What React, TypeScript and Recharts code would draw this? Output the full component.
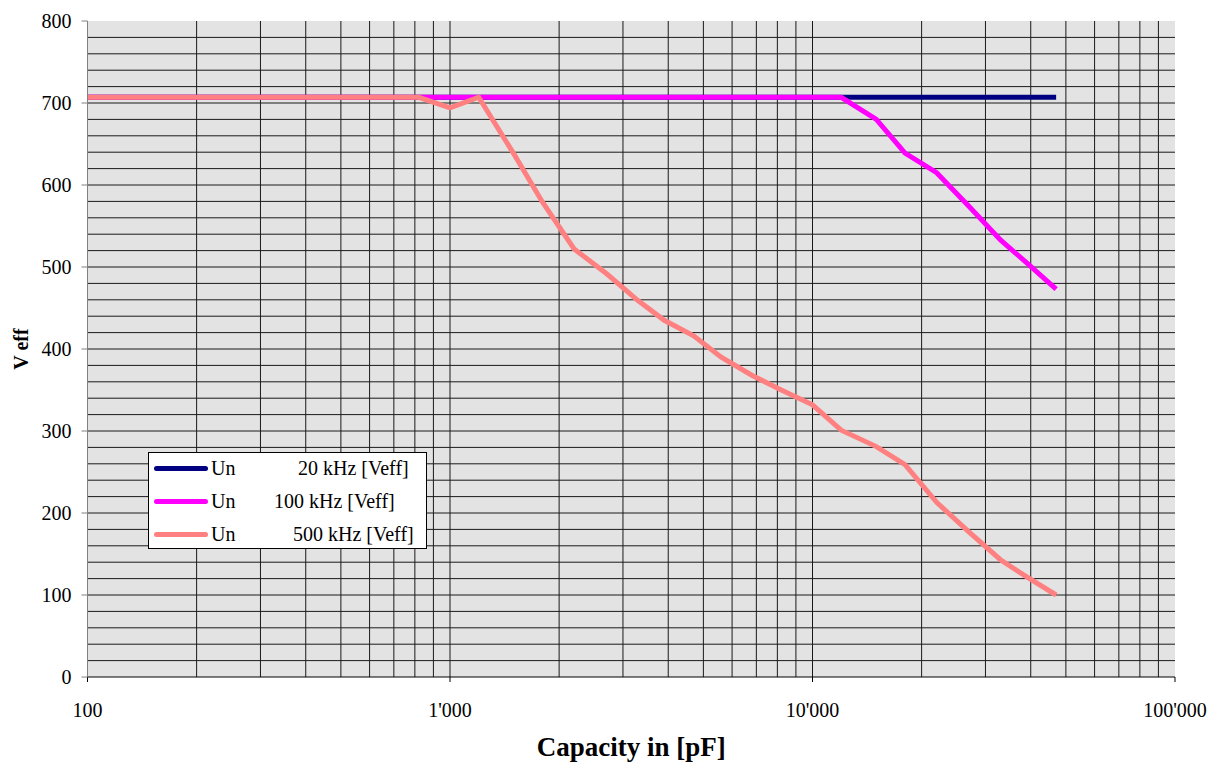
import { LineChart, Line, XAxis, YAxis, CartesianGrid, ReferenceLine, Legend } from "recharts";

// capacitance values (pF), E12 steps
const capacity = [
  100, 120, 150, 180, 220, 270, 330, 390, 470, 560, 680, 820,
  1000, 1200, 1500, 1800, 2200, 2700, 3300, 3900, 4700, 5600, 6800, 8200,
  10000, 12000, 15000, 18000, 22000, 27000, 33000, 39000, 47000,
];

const un20k = [
  707, 707, 707, 707, 707, 707, 707, 707, 707, 707, 707, 707,
  707, 707, 707, 707, 707, 707, 707, 707, 707, 707, 707, 707,
  707, 707, 707, 707, 707, 707, 707, 707, 707,
];
const un100k = [
  707, 707, 707, 707, 707, 707, 707, 707, 707, 707, 707, 707,
  707, 707, 707, 707, 707, 707, 707, 707, 707, 707, 707, 707,
  707, 707, 680, 639, 615, 574, 533, 505, 473,
];
const un500k = [
  707, 707, 707, 707, 707, 707, 707, 707, 707, 707, 707, 707,
  694, 707, 638, 579, 522, 492, 459, 435, 416, 390, 368, 350,
  332, 301, 281, 259, 213, 177, 143, 122, 100,
];

const xTicks = [100, 1000, 10000, 100000];
const yTicks = [0, 100, 200, 300, 400, 500, 600, 700, 800];
const xGrid = [
  200, 300, 400, 500, 600, 700, 800, 900, 1000,
  2000, 3000, 4000, 5000, 6000, 7000, 8000, 9000, 10000,
  20000, 30000, 40000, 50000, 60000, 70000, 80000, 90000,
];
const yGrid = [
  20, 40, 60, 80, 100, 120, 140, 160, 180, 200, 220, 240, 260, 280, 300,
  320, 340, 360, 380, 400, 420, 440, 460, 480, 500, 520, 540, 560, 580,
  600, 620, 640, 660, 680, 700, 720, 740, 760, 780,
];

const series = [
  { key: "u20", name: "20 kHz [Veff]", values: un20k, color: "#000080" },
  { key: "u100", name: "100 kHz [Veff]", values: un100k, color: "#ff00ff" },
  { key: "u500", name: "500 kHz [Veff]", values: un500k, color: "#ff8080" },
];

const data = capacity.map((c, i) => {
  const row: Record<string, number> = { c };
  series.forEach((s) => (row[s.key] = s.values[i]));
  return row;
});

const font = "'Liberation Serif', 'Times New Roman', serif";
const legendTextLeft = [149, 125, 144];

const fmtCap = (v: number) => String(v).replace(/\B(?=(\d{3})+(?!\d))/g, "'");

function LegendBox() {
  return (
    <div
      style={{
        width: 277,
        height: 95,
        border: "1px solid #000",
        background: "#fff",
        position: "relative",
        fontFamily: font,
        fontSize: 20,
        color: "#000",
      }}
    >
      {series.map((s, i) => (
        <div key={s.key} style={{ position: "absolute", top: 3 + i * 33, left: 0, height: 24, width: "100%" }}>
          <div
            style={{
              position: "absolute",
              left: 5,
              top: 10,
              width: 54,
              height: 5,
              borderRadius: 2.5,
              background: s.color,
            }}
          />
          <span style={{ position: "absolute", left: 62, top: 0, lineHeight: "24px" }}>Un</span>
          <span style={{ position: "absolute", left: legendTextLeft[i], top: 0, lineHeight: "24px", whiteSpace: "nowrap" }}>
            {s.name}
          </span>
        </div>
      ))}
    </div>
  );
}

export default function App() {
  return (
    <div style={{ position: "absolute", left: 0, top: 0, background: "#fff" }}>
      <LineChart
        width={1219}
        height={765}
        data={data}
        margin={{ top: 21, right: 44, bottom: 0, left: 0 }}
        style={{ fontFamily: font }}
      >
        <CartesianGrid fill="#e3e3e3" stroke="none" horizontal={false} vertical={false} />
        {xGrid.map((v) => (
          <ReferenceLine key={"x" + v} x={v} stroke="#1a1a1a" strokeWidth={1} ifOverflow="visible" />
        ))}
        {yGrid.map((v) => (
          <ReferenceLine key={"y" + v} y={v} stroke="#1a1a1a" strokeWidth={1} />
        ))}
        <XAxis
          dataKey="c"
          type="number"
          scale="log"
          domain={[100, 100000]}
          ticks={xTicks}
          allowDataOverflow
          tickFormatter={fmtCap}
          height={88}
          tickSize={5}
          tickMargin={21}
          stroke="#000"
          tick={{ fill: "#000", fontSize: 20, fontFamily: font }}
          label={{
            content: ({ viewBox }: any) => (
              <text
                x={viewBox.x + viewBox.width / 2}
                y={viewBox.y + 79}
                textAnchor="middle"
                fontFamily={font}
                fontWeight="bold"
                fontSize={27}
                fill="#000"
              >
                Capacity in [pF]
              </text>
            ),
          }}
        />
        <YAxis
          type="number"
          domain={[0, 800]}
          ticks={yTicks}
          width={87.5}
          tickSize={6}
          tickMargin={10}
          stroke="#808080"
          tick={{ fill: "#000", fontSize: 20, fontFamily: font }}
          label={{
            content: ({ viewBox }: any) => {
              const cx = 28;
              const cy = viewBox.y + viewBox.height / 2;
              return (
                <text
                  x={cx}
                  y={cy}
                  transform={`rotate(-90, ${cx}, ${cy})`}
                  textAnchor="middle"
                  fontFamily={font}
                  fontWeight="bold"
                  fontSize={20}
                  fill="#000"
                >
                  V eff
                </text>
              );
            },
          }}
        />
        {series.map((s) => (
          <Line
            key={s.key}
            dataKey={s.key}
            name={s.name}
            type="linear"
            stroke={s.color}
            strokeWidth={5}
            dot={false}
            activeDot={false}
            isAnimationActive={false}
          />
        ))}
        <Legend
          layout="vertical"
          verticalAlign="middle"
          align="center"
          content={() => <LegendBox />}
          wrapperStyle={{ left: 148, top: 452, width: 279, height: 97 }}
        />
      </LineChart>
    </div>
  );
}
